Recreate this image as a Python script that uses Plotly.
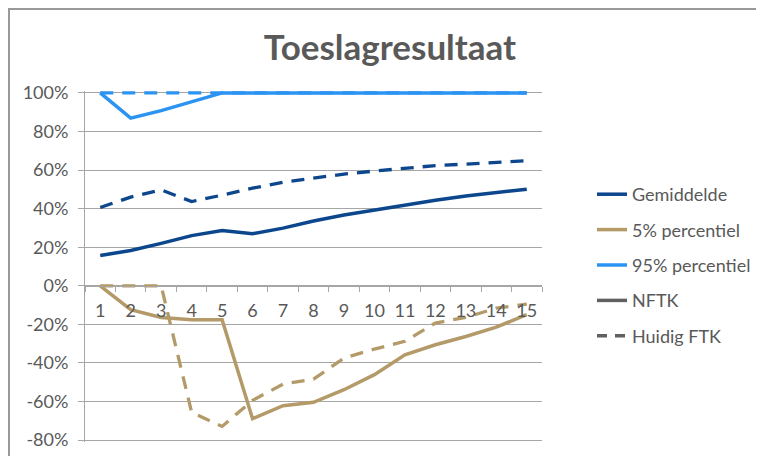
import plotly.graph_objects as go

categories = ["1", "2", "3", "4", "5", "6", "7", "8", "9", "10", "11", "12", "13", "14", "15"]

gem_nftk = [15.7, 18.3, 22.0, 26.0, 28.7, 27.0, 29.9, 33.6, 36.7, 39.4, 41.8, 44.4, 46.6, 48.4, 50.1]
gem_ftk = [40.6, 46.0, 49.7, 43.7, 47.0, 50.6, 53.7, 55.8, 57.9, 59.5, 61.0, 62.3, 63.1, 64.1, 64.9]
p5_nftk = [0.0, -12.4, -16.4, -17.6, -17.6, -68.9, -62.2, -60.4, -53.9, -46.1, -35.8, -30.6, -26.3, -21.4, -15.0]
p5_ftk = [0.0, 0.0, 0.0, -65.6, -72.9, -59.4, -51.0, -48.4, -37.5, -32.8, -28.8, -19.3, -16.4, -11.6, -9.5]
p95_nftk = [100, 86.9, 90.8, 95.2, 100, 100, 100, 100, 100, 100, 100, 100, 100, 100, 100]
p95_ftk = [100, 100, 100, 100, 100, 100, 100, 100, 100, 100, 100, 100, 100, 100, 100]

series_names = ["Gemiddelde", "5% percentiel", "95% percentiel"]
y_ticks = [-80, -60, -40, -20, 0, 20, 40, 60, 80, 100]
y_tick_labels = ["-80%", "-60%", "-40%", "-20%", "0%", "20%", "40%", "60%", "80%", "100%"]
title_text = "Toeslagresultaat"

NAVY = "#0C468D"
TAN = "#B39A68"
LIGHT = "#2B93F2"
GRAY = "#606060"
TXT = "#595959"
AX = "#A6A6A6"
FONT = "Lato"
DASH = "13px,9px"

fig = go.Figure()

solid = [gem_nftk, p5_nftk, p95_nftk]
dashed = [gem_ftk, p5_ftk, p95_ftk]
colors = [NAVY, TAN, LIGHT]

# dashed (Huidig FTK) series
for vals, col, nm in zip(dashed, colors, series_names):
    fig.add_trace(go.Scatter(x=categories, y=vals, mode="lines", name=nm + " (Huidig FTK)",
                             line=dict(color=col, width=3.3, dash=DASH),
                             showlegend=False, cliponaxis=False))
# solid (NFTK) series
for i, (vals, col, nm) in enumerate(zip(solid, colors, series_names)):
    fig.add_trace(go.Scatter(x=categories, y=vals, mode="lines", name=nm,
                             line=dict(color=col, width=3.5),
                             legendgroup="g%d" % i, cliponaxis=False))
# legend-only entries
fig.add_trace(go.Scatter(x=[None], y=[None], mode="lines", name="NFTK",
                         line=dict(color=GRAY, width=3.5), legendgroup="g3"))
fig.add_trace(go.Scatter(x=[None], y=[None], mode="lines", name="Huidig FTK",
                         line=dict(color=GRAY, width=3.5, dash="10px,8px"), legendgroup="g4"))

ymin, ymax = -81, 101
zero_pos = (0 - ymin) / (ymax - ymin)

# page is offset by the 8px body margin; layout below is in figure coordinates
W, H = 764, 456
L, T = 77, 83
PW, PH = 457, 351
R, B = W - L - PW, H - T - PH

fig.update_layout(
    width=W, height=H,
    margin=dict(l=L, r=R, t=T, b=B),
    paper_bgcolor="white", plot_bgcolor="white",
    font=dict(family=FONT, size=18, color=TXT),
    title=dict(text="<b>" + title_text + "</b>", x=382 / W, xanchor="center",
               y=1 - 40 / H, yanchor="middle", yref="container",
               font=dict(family=FONT, size=35, color=TXT)),
    showlegend=True,
    legend=dict(x=(584 - L) / PW, xanchor="left", y=(H - B - 168) / PH, yanchor="top",
                font=dict(family=FONT, size=18, color=TXT),
                tracegroupgap=9, bgcolor="rgba(0,0,0,0)"),
    xaxis=dict(type="category", anchor="free", position=zero_pos,
               showgrid=False, zeroline=False, showline=True, linecolor=AX, linewidth=1,
               ticks="outside", ticklen=5, tickcolor=AX, tickson="boundaries",
               ticklabelstandoff=9, tickfont=dict(family=FONT, size=18, color=TXT),
               range=[-0.5, 14.5]),
    yaxis=dict(range=[ymin, ymax], tickvals=y_ticks, ticktext=y_tick_labels,
               showgrid=True, gridcolor=AX, gridwidth=1, zeroline=False,
               showline=True, linecolor=AX, linewidth=1,
               ticks="outside", ticklen=6, tickcolor=AX,
               ticklabelstandoff=6, tickfont=dict(family=FONT, size=18, color=TXT)),
    shapes=[dict(type="rect", xref="paper", yref="paper",
                 x0=(1 - L) / PW, x1=1.6, y0=-0.2, y1=(H - B - 1) / PH,
                 line=dict(color="#999999", width=2), fillcolor="rgba(0,0,0,0)", layer="below")],
)

fig.write_html("out.html")
